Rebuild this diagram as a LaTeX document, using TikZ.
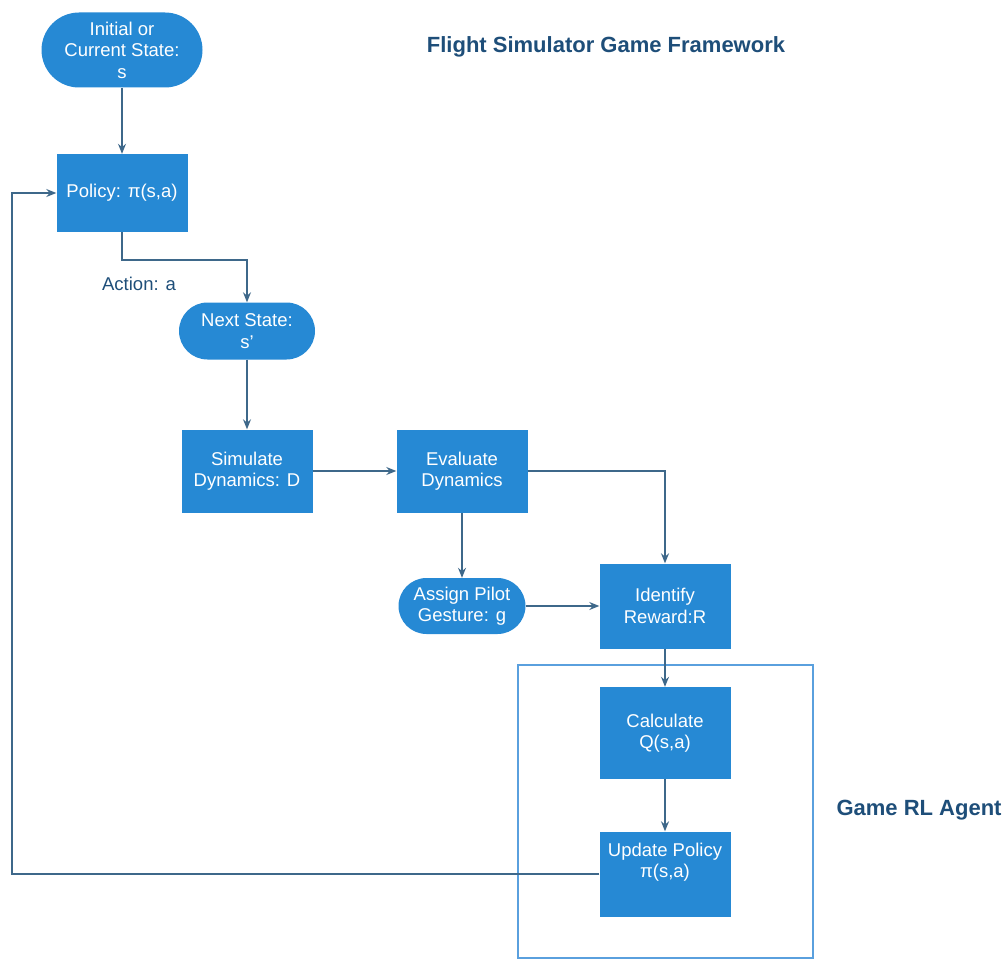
\documentclass[tikz,border=0pt]{standalone}
\usepackage{fontspec}
\setmainfont{Liberation Sans}
\usetikzlibrary{arrows.meta,shapes.misc}
\definecolor{boxblue}{RGB}{38,137,212}
\definecolor{linecol}{RGB}{62,104,138}
\definecolor{framecol}{RGB}{90,160,222}
\definecolor{titlecol}{RGB}{30,78,121}
\tikzset{
  boxfont/.style={font=\fontsize{18.5}{21.5}\selectfont},
  procbox/.style={draw=none,fill=boxblue,text=white,minimum width=131pt,align=center,boxfont},
  termbox/.style={draw=none,fill=boxblue,text=white,rounded rectangle,align=center,boxfont,inner xsep=2pt},
  conn/.style={draw=linecol,line width=1.1pt,-{Stealth[length=10pt,width=8pt]}},
}
\begin{document}
\begin{tikzpicture}[x=1pt,y=-1pt]
\useasboundingbox (0,0) rectangle (1006,960);
\draw[framecol,line width=1.1pt] (518,665) rectangle (813,958);
\node[termbox,minimum width=165pt,minimum height=75pt] (init) at (122,50) {Initial or\\Current State:\\s};
\node[procbox,minimum height=78pt] (policy) at (122,193) {Policy: π(s,a)};
\node[termbox,minimum width=140pt,minimum height=57pt] (next) at (247,331) {Next State:\\s'};
\node[procbox,minimum height=83pt] (sim) at (247,471) {Simulate\\Dynamics: D};
\node[procbox,minimum height=83pt] (eval) at (462,471) {Evaluate\\Dynamics};
\node[termbox,minimum width=131pt,minimum height=56pt] (assign) at (462,606) {Assign Pilot\\Gesture: g};
\node[procbox,minimum height=85pt] (reward) at (665,606) {Identify\\Reward:R};
\node[procbox,minimum height=92pt] (calc) at (665,733) {Calculate\\Q(s,a)};
\node[procbox,minimum height=85pt] (update) at (665,874) {};
\node[text=white,align=center,boxfont] (updtext) at (665,862) {Update Policy\\π(s,a)};
\node[text=titlecol,font=\bfseries\fontsize{22}{24}\selectfont] (title) at (606,47) {Flight Simulator Game Framework};
\node[text=titlecol,font=\bfseries\fontsize{22}{24}\selectfont,anchor=west] (agent) at (833,810) {Game RL Agent};
\node[text=titlecol,font=\fontsize{18.5}{21}\selectfont] (action) at (139,284) {Action: a};
\coordinate (c1) at (122,260);
\coordinate (c2) at (247,260);
\coordinate (c3) at (665,471);
\coordinate (c4) at (12,874);
\coordinate (c5) at (12,193);
\draw[conn] (init.south) -- (policy.north);
\draw[conn] (policy.south) -- (c1) -- (c2) -- (next.north);
\draw[conn] (next.south) -- (sim.north);
\draw[conn] (sim.east) -- (eval.west);
\draw[conn] (eval.east) -- (c3) -- (reward.north);
\draw[conn] (eval.south) -- (assign.north);
\draw[conn] (assign.east) -- (reward.west);
\draw[conn] (reward.south) -- (calc.north);
\draw[conn] (calc.south) -- (update.north);
\draw[conn] (update.west) -- (c4) -- (c5) -- (policy.west);
\end{tikzpicture}
\end{document}
